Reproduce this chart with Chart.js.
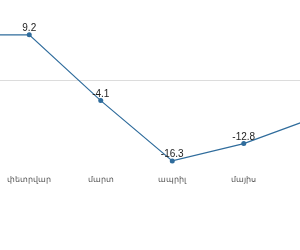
<!DOCTYPE html>
<html>
<head>
<meta charset="utf-8">
<script src="https://cdn.jsdelivr.net/npm/chart.js@4"></script>
<style>
  html, body { margin: 0; padding: 0; background: #fff; overflow: hidden; }
  #wrap { position: relative; width: 300px; height: 250px; overflow: hidden; }
  #chartCont { position: absolute; left: -78px; top: 0; width: 429px; height: 250px; }
</style>
</head>
<body>
<div id="wrap"><div id="chartCont"><canvas id="myChart" width="429" height="250"></canvas></div></div>
<script>
// months (first and last sit outside the visible window)
const months = ["հունվար", "փետրվար", "մարտ", "ապրիլ", "մայիս", "հունիս"];
const values = [9.2, 9.2, -4.1, -16.3, -12.8, -7.5];

const lineColor = "#2f6c9c";

const pointLabels = {
  id: "pointLabels",
  afterDatasetsDraw(chart) {
    const ctx = chart.ctx;
    const meta = chart.getDatasetMeta(0);
    ctx.save();
    ctx.font = "10px 'Liberation Sans', Arial, sans-serif";
    ctx.fillStyle = "#222";
    ctx.textAlign = "center";
    ctx.textBaseline = "alphabetic";
    meta.data.forEach((pt, i) => {
      ctx.fillText(String(values[i]), pt.x, pt.y - 3.5);
    });
    ctx.restore();
  },
};

const ctx = document.getElementById("myChart");

const chart = new Chart(ctx, {
  type: "line",
  data: {
    labels: months,
    datasets: [
      {
        data: values,
        fill: false,
        borderColor: lineColor,
        backgroundColor: lineColor,
        borderWidth: 1.2,
        tension: 0,
        pointRadius: 2.5,
        pointBorderWidth: 0,
        clip: false,
      },
    ],
  },
  options: {
    responsive: false,
    animation: false,
    layout: { autoPadding: false, padding: { top: 0, left: 0, right: 0, bottom: 62.6 } },
    scales: {
      x: {
        offset: true,
        grid: { display: false, drawTicks: false },
        border: { display: false },
        ticks: {
          padding: 3,
          maxRotation: 0,
          autoSkip: false,
          color: "#555",
          font: { size: 8, family: "'Liberation Sans', Arial, sans-serif" },
        },
      },
      y: {
        min: -18.5,
        max: 16.25,
        border: { display: false },
        ticks: { display: false, stepSize: 5 },
        grid: {
          drawTicks: false,
          color: (c) => (c.tick && c.tick.value === 0 ? "#dcdcdc" : "rgba(0,0,0,0)"),
        },
      },
    },
    plugins: {
      legend: { display: false },
      tooltip: { enabled: false },
    },
  },
  plugins: [pointLabels],
});
</script>
</body>
</html>
